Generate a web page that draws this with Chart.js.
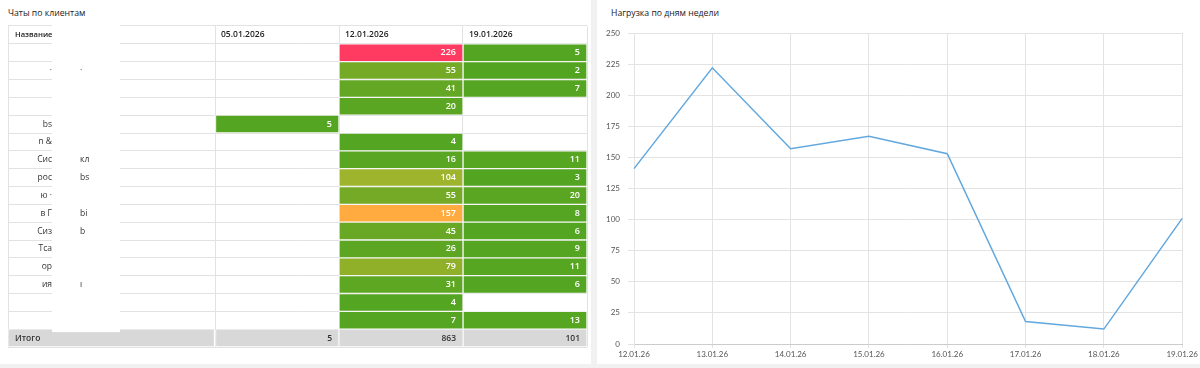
<!DOCTYPE html>
<html><head><meta charset="utf-8">
<script src="https://cdn.jsdelivr.net/npm/chart.js@4/dist/chart.umd.min.js"></script>
<style>
html,body{margin:0;padding:0}
body{background:#f1f1f1;width:1200px;height:368px;overflow:hidden;font-family:"Open Sans",sans-serif;position:relative}
.panel{position:absolute;top:0;height:364px;background:#fff}
#pl{left:0;width:591px}
#pr{left:597px;width:603px}
.title{position:absolute;top:7px;font-size:8.7px;color:#222;font-family:"Open Sans",sans-serif}
#pl .title{left:8px}
#pr .title{left:14px}
canvas{position:absolute;left:0;top:0}
</style>
</head><body>
<div class="panel" id="pl"><div class="title">Чаты по клиентам</div><canvas id="ct" width="591" height="364"></canvas></div>
<div class="panel" id="pr"><div class="title">Нагрузка по дням недели</div><canvas id="cl" width="603" height="364"></canvas></div>
<script>
// ---------- data ----------
const columnDates = ['05.01.2026', '12.01.2026', '19.01.2026'];
const nameHeader = 'Название';
const totalLabel = 'Итого';
// redacted client names: visible fragments (left part, right part)
const nameFragLeft  = ['', '·', '', '', 'bs', 'n &', 'Сис', 'рос', 'ю ·', 'в Г', 'Сиз', 'Тса', 'ор', 'ия', '', ''];
const nameFragRight = ['', '·', '', '', '', '', 'кл', 'bs', '', 'bi', 'b', '', '', 'ı', '', ''];
const week0501 = [null, null, null, null, 5, null, null, null, null, null, null, null, null, null, null, null];
const week1201 = [226, 55, 41, 20, null, 4, 16, 104, 55, 157, 45, 26, 79, 31, 4, 7];
const week1901 = [5, 2, 7, null, null, null, 11, 3, 20, 8, 6, 9, 11, 6, null, 13];
const columnTotals = [5, 863, 101];

const dayLabels = ['12.01.26','13.01.26','14.01.26','15.01.26','16.01.26','17.01.26','18.01.26','19.01.26'];
const dayLoad = [141, 222, 157, 167, 153, 18, 12, 101];

// ---------- table chart ----------
const weekCols = [week0501, week1201, week1901];
const rowKeys = ['h'].concat(week1201.map((_, i) => 'r' + i)).concat(['t']);
const lastRow = rowKeys.length - 1;
const NAME_W = 207 / 124;

const stops = [[0,[82,165,33]],[40,[98,167,36]],[80,[145,176,42]],[110,[163,181,46]],[157,[255,171,64]],[226,[255,59,97]]];
function heat(v){
  for (let i=1;i<stops.length;i++){
    if (v<=stops[i][0]){
      const a=stops[i-1], b=stops[i], t=(v-a[0])/(b[0]-a[0]);
      const c=a[1].map((x,k)=>Math.round(x+(b[1][k]-x)*t));
      return 'rgb('+c.join(',')+')';
    }
  }
  return 'rgb(255,59,97)';
}

const datasets = [];
datasets.push({
  data: rowKeys.map((_, r) => r === lastRow ? [-NAME_W, 0] : null),
  backgroundColor: '#d8d8d8', borderColor: 'rgba(255,255,255,0.5)', borderWidth: 1, borderSkipped: false,
  grouped: false, barPercentage: 1, categoryPercentage: 1
});
weekCols.forEach((col, c) => {
  datasets.push({
    data: rowKeys.map((_, r) => {
      if (r === 0) return null;
      if (r === lastRow) return [c, c + 1];
      return col[r - 1] != null ? [c, c + 1] : null;
    }),
    backgroundColor: ctx => ctx.dataIndex === lastRow ? '#d8d8d8' : heat(col[ctx.dataIndex - 1] || 0),
    borderColor: 'rgba(255,255,255,0.55)', borderWidth: 1, borderSkipped: false,
    grouped: false, barPercentage: 1, categoryPercentage: 1
  });
});

const tableText = {
  id: 'tableText',
  afterDatasetsDraw(chart) {
    const {ctx, scales: {x, y}} = chart;
    const left = x.getPixelForValue(-NAME_W);
    ctx.save();
    ctx.textBaseline = 'middle';
    const top = y.getPixelForValue(0) - (y.getPixelForValue(1) - y.getPixelForValue(0)) / 2;
    ctx.fillStyle = '#ffffff';
    ctx.fillRect(left + 44, top - 1, 68, y.getPixelForValue(lastRow) - top - 5);
    ctx.fillStyle = '#222';
    ctx.font = '600 7.6px "Open Sans"';
    ctx.textAlign = 'left';
    ctx.fillText(nameHeader, left + 7, y.getPixelForValue(0));
    ctx.font = '600 8.5px "Open Sans"';
    columnDates.forEach((d, c) => ctx.fillText(d, x.getPixelForValue(c) + 6, y.getPixelForValue(0)));
    ctx.font = '8.5px "Open Sans"';
    ctx.fillStyle = '#333';
    nameFragLeft.forEach((s, i) => { ctx.textAlign = 'right'; ctx.fillText(s, left + 44, y.getPixelForValue(i + 1)); });
    nameFragRight.forEach((s, i) => { ctx.textAlign = 'left'; ctx.fillText(s, left + 72, y.getPixelForValue(i + 1)); });
    ctx.font = '600 9px "Open Sans"';
    ctx.fillStyle = '#ffffff';
    ctx.textAlign = 'right';
    weekCols.forEach((col, c) => col.forEach((v, i) => {
      if (v != null) ctx.fillText(String(v), x.getPixelForValue(c + 1) - 7, y.getPixelForValue(i + 1));
    }));
    ctx.fillStyle = '#333';
    ctx.textAlign = 'left';
    ctx.font = '600 8.5px "Open Sans"';
    ctx.fillText(totalLabel, left + 7, y.getPixelForValue(lastRow));
    ctx.textAlign = 'right';
    columnTotals.forEach((v, c) => ctx.fillText(String(v), x.getPixelForValue(c + 1) - 7, y.getPixelForValue(lastRow)));
    ctx.restore();
  }
};

new Chart(document.getElementById('ct'), {
  type: 'bar',
  data: { labels: rowKeys, datasets },
  options: {
    responsive: false, animation: false, indexAxis: 'y',
    layout: { padding: { left: 8, right: 4, top: 26, bottom: 17 } },
    plugins: { legend: { display: false }, tooltip: { enabled: false } },
    scales: {
      x: {
        type: 'linear', min: -NAME_W, max: 3, position: 'top',
        afterBuildTicks: s => { s.ticks = [-NAME_W, 0, 1, 2, 3].map(v => ({ value: v })); },
        ticks: { display: false }, grid: { color: '#e2e2e2', drawTicks: false }, border: { display: false }
      },
      y: {
        type: 'category', offset: true,
        ticks: { display: false }, grid: { color: '#e2e2e2', drawTicks: false, offset: true }, border: { display: false }
      }
    }
  },
  plugins: [tableText]
});

// ---------- line chart ----------
new Chart(document.getElementById('cl'), {
  type: 'line',
  data: { labels: dayLabels, datasets: [{ data: dayLoad, borderColor: '#62a8de', borderWidth: 1.5, pointRadius: 0, tension: 0, fill: false }] },
  options: {
    responsive: false, animation: false,
    layout: { padding: { left: 0, right: 12, top: 33, bottom: 0 } },
    plugins: { legend: { display: false }, tooltip: { enabled: false } },
    scales: {
      x: {
        offset: false,
        afterFit: s => { s.height = 20; },
        ticks: { font: { size: 8, family: 'Lato' }, color: '#555', padding: 2, maxRotation: 0 },
        grid: { color: '#e3e3e3', tickLength: 4 }, border: { color: '#cccccc' }
      },
      y: {
        min: 0, max: 250,
        afterFit: s => { s.width = 37; },
        ticks: { stepSize: 25, font: { size: 8, family: 'Lato' }, color: '#555', padding: 8 },
        grid: { color: '#e3e3e3', tickLength: 6 }, border: { color: '#e3e3e3' }
      }
    }
  }
});
</script>
</body></html>
